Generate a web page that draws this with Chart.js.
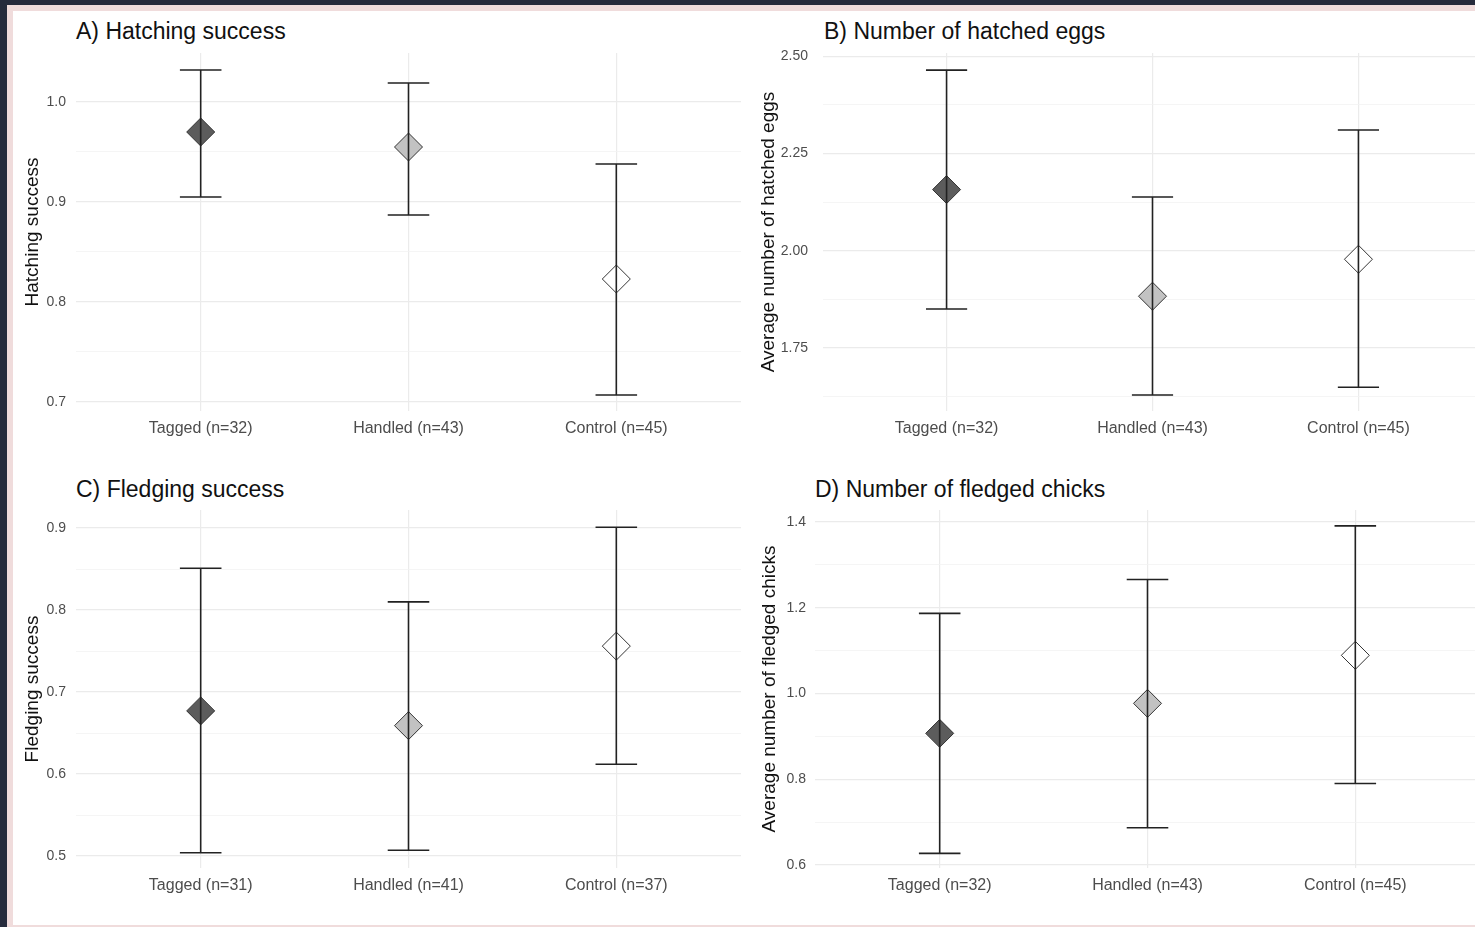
<!DOCTYPE html>
<html>
<head>
<meta charset="utf-8">
<script src="https://cdn.jsdelivr.net/npm/chart.js@4.4.1/dist/chart.umd.min.js"></script>
<style>
  html, body { margin: 0; padding: 0; }
  body { width: 1475px; height: 927px; overflow: hidden; background: #262b3c; position: relative;
         font-family: "Liberation Sans", Arial, sans-serif; }
  #sheet { position: absolute; left: 7px; top: 5px; width: 1500px; height: 914px;
           border-left: 6px solid #f0dcdc; border-top: 6px solid #f0dcdc; border-bottom: 2px solid #f0dcdc;
           background: #fff; }
  .title { position: absolute; font-size: 23px; line-height: 23px; color: #111; white-space: nowrap; }
  canvas { position: absolute; }
</style>
</head>
<body>
<div id="sheet"></div>
<div class="title" style="left:76px; top:20px;">A) Hatching success</div>
<div class="title" style="left:824px; top:20px;">B) Number of hatched eggs</div>
<div class="title" style="left:76px; top:478px;">C) Fledging success</div>
<div class="title" style="left:815px; top:478px;">D) Number of fledged chicks</div>
<canvas id="chartA" width="747" height="401" style="left:13px; top:45px;"></canvas>
<canvas id="chartB" width="750" height="401" style="left:750px; top:45px;"></canvas>
<canvas id="chartC" width="747" height="403" style="left:13px; top:500px;"></canvas>
<canvas id="chartD" width="750" height="403" style="left:750px; top:500px;"></canvas>
<script>
// groups and sample sizes
const groups = ['Tagged', 'Handled', 'Control'];
const nHatch = [32, 43, 45];
const nFledgeSuccess = [31, 41, 37];
const nFledged = [32, 43, 45];

// A) hatching success
const hatchSuccessMean = [0.970, 0.955, 0.823];
const hatchSuccessLow = [0.905, 0.887, 0.707];
const hatchSuccessHigh = [1.032, 1.019, 0.938];
const hatchSuccessTicks = [0.7, 0.8, 0.9, 1.0];
const hatchSuccessMinor = [0.75, 0.85, 0.95];

// B) number of hatched eggs
const hatchedEggsMean = [2.157, 1.883, 1.978];
const hatchedEggsLow = [1.850, 1.629, 1.649];
const hatchedEggsHigh = [2.464, 2.138, 2.310];
const hatchedEggsTicks = [1.75, 2.00, 2.25, 2.50];
const hatchedEggsMinor = [1.625, 1.875, 2.125, 2.375];

// C) fledging success
const fledgeSuccessMean = [0.677, 0.659, 0.756];
const fledgeSuccessLow = [0.504, 0.507, 0.612];
const fledgeSuccessHigh = [0.851, 0.810, 0.901];
const fledgeSuccessTicks = [0.5, 0.6, 0.7, 0.8, 0.9];
const fledgeSuccessMinor = [0.55, 0.65, 0.75, 0.85];

// D) number of fledged chicks
const fledgedChicksMean = [0.907, 0.977, 1.089];
const fledgedChicksLow = [0.627, 0.687, 0.790];
const fledgedChicksHigh = [1.187, 1.266, 1.391];
const fledgedChicksTicks = [0.6, 0.8, 1.0, 1.2, 1.4];
const fledgedChicksMinor = [0.7, 0.9, 1.1, 1.3];

const fills = ['#5c5c5c', '#c2c2c2', '#ffffff'];
const FONT = '"Liberation Sans", Arial, sans-serif';

function errorBarPlugin(low, high) {
  return {
    id: 'errorBars',
    afterDatasetsDraw(chart) {
      const ctx = chart.ctx, xs = chart.scales.x, ys = chart.scales.y;
      ctx.save();
      ctx.strokeStyle = '#222';
      ctx.lineWidth = 1.6;
      low.forEach((lo, i) => {
        const x = xs.getPixelForValue(i + 1);
        const xa = xs.getPixelForValue(i + 0.9), xb = xs.getPixelForValue(i + 1.1);
        const yl = ys.getPixelForValue(lo), yh = ys.getPixelForValue(high[i]);
        ctx.beginPath();
        ctx.moveTo(x, yh); ctx.lineTo(x, yl);
        ctx.moveTo(xa, yh); ctx.lineTo(xb, yh);
        ctx.moveTo(xa, yl); ctx.lineTo(xb, yl);
        ctx.stroke();
      });
      ctx.restore();
    }
  };
}

// p: canvas id, means, low, high, labels, ticks, minor, decimals, y range, axis title, layout numbers
function makePanel(p) {
  const allTicks = p.ticks.concat(p.minor).sort((a, b) => a - b);
  const isMinor = v => p.minor.some(t => Math.abs(t - v) < 1e-9);
  return new Chart(document.getElementById(p.id), {
    type: 'scatter',
    data: {
      datasets: [{
        data: p.means.map((m, i) => ({ x: i + 1, y: m })),
        pointStyle: 'rectRot',
        pointRadius: 14,
        pointHoverRadius: 14,
        backgroundColor: fills,
        borderColor: '#333',
        borderWidth: 1
      }]
    },
    options: {
      responsive: false,
      animation: false,
      devicePixelRatio: 1,
      layout: { autoPadding: false, padding: { top: p.padTop, right: p.padRight, left: 0, bottom: 0 } },
      plugins: { legend: { display: false }, tooltip: { enabled: false } },
      scales: {
        x: {
          type: 'linear', min: 0.4, max: 3.6,
          afterBuildTicks: s => { s.ticks = groups.map((g, i) => ({ value: i + 1 })); },
          afterFit: s => { s.height = 35; s.paddingLeft = 0; s.paddingRight = 0; },
          ticks: {
            callback: (v, i) => p.labels[i],
            color: '#4d4d4d', font: { family: FONT, size: 16 }, padding: 8, maxRotation: 0, autoSkip: false
          },
          grid: { color: '#ebebeb', lineWidth: 1.2, drawTicks: false },
          border: { display: false }
        },
        y: {
          type: 'linear', min: p.min, max: p.max,
          afterBuildTicks: s => { s.ticks = allTicks.map(v => ({ value: v })); },
          afterFit: s => { s.width = p.axisWidth; s.paddingTop = 0; s.paddingBottom = 0; },
          ticks: {
            callback: v => isMinor(v) ? '' : v.toFixed(p.dec),
            color: '#4d4d4d', font: { family: FONT, size: 14 }, padding: p.tickPad, autoSkip: false
          },
          grid: {
            color: c => isMinor(c.tick.value) ? '#f3f3f3' : '#ebebeb',
            lineWidth: c => isMinor(c.tick.value) ? 0.8 : 1.2,
            drawTicks: false
          },
          border: { display: false },
          title: {
            display: true, text: p.yTitle, color: '#111',
            font: { family: FONT, size: 19 }, padding: { top: p.titlePad, bottom: 0 }
          }
        }
      }
    },
    plugins: [errorBarPlugin(p.low, p.high)]
  });
}

const labelsOf = n => groups.map((g, i) => g + ' (n=' + n[i] + ')');

makePanel({
  id: 'chartA', means: hatchSuccessMean, low: hatchSuccessLow, high: hatchSuccessHigh,
  labels: labelsOf(nHatch), ticks: hatchSuccessTicks, minor: hatchSuccessMinor, dec: 1,
  min: 0.691, max: 1.049, yTitle: 'Hatching success',
  axisWidth: 63, tickPad: 10, titlePad: 8, padTop: 8, padRight: 19
});
makePanel({
  id: 'chartB', means: hatchedEggsMean, low: hatchedEggsLow, high: hatchedEggsHigh,
  labels: labelsOf(nHatch), ticks: hatchedEggsTicks, minor: hatchedEggsMinor, dec: 2,
  min: 1.588, max: 2.508, yTitle: 'Average number of hatched eggs',
  axisWidth: 73, tickPad: 15, titlePad: 7, padTop: 8, padRight: 18
});
makePanel({
  id: 'chartC', means: fledgeSuccessMean, low: fledgeSuccessLow, high: fledgeSuccessHigh,
  labels: labelsOf(nFledgeSuccess), ticks: fledgeSuccessTicks, minor: fledgeSuccessMinor, dec: 1,
  min: 0.4854, max: 0.922, yTitle: 'Fledging success',
  axisWidth: 63, tickPad: 10, titlePad: 8, padTop: 10, padRight: 19
});
makePanel({
  id: 'chartD', means: fledgedChicksMean, low: fledgedChicksLow, high: fledgedChicksHigh,
  labels: labelsOf(nFledged), ticks: fledgedChicksTicks, minor: fledgedChicksMinor, dec: 1,
  min: 0.593, max: 1.428, yTitle: 'Average number of fledged chicks',
  axisWidth: 65, tickPad: 9, titlePad: 8, padTop: 10, padRight: 20
});
</script>
</body>
</html>
